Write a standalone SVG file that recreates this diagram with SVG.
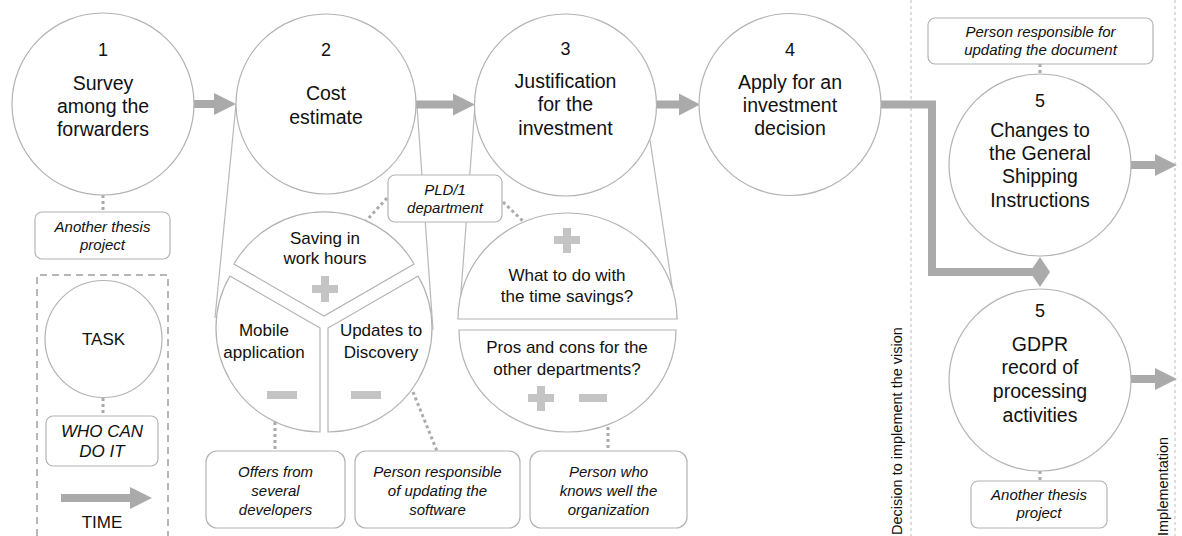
<svg xmlns="http://www.w3.org/2000/svg" width="1182" height="536" viewBox="0 0 1182 536">
  <style>
    .node { fill: #ffffff; stroke: #b3b3b3; stroke-width: 1.2; }
    .box { fill: #ffffff; stroke: #b3b3b3; stroke-width: 1.2; }
    .funnel { fill: none; stroke: #b8b8b8; stroke-width: 1.2; }
    .arrow { fill: #aaaaaa; stroke: none; }
    .flow { fill: none; stroke: #aaaaaa; stroke-width: 8; stroke-linejoin: miter; }
    .dots { fill: none; stroke: #aaaaaa; stroke-width: 3; stroke-dasharray: 3 3; }
    .divider { fill: none; stroke: #bbbbbb; stroke-width: 1; stroke-dasharray: 3 3; }
    .legend { fill: none; stroke: #a0a0a0; stroke-width: 1.5; stroke-dasharray: 7 5; }
    .sign { fill: #c4c4c4; }
    .title { font-family: "Liberation Sans", Arial, sans-serif; font-size: 19.5px; fill: #111111; text-anchor: middle; }
    .num { font-family: "Liberation Sans", Arial, sans-serif; font-size: 18px; fill: #111111; text-anchor: middle; }
    .inner { font-family: "Liberation Sans", Arial, sans-serif; font-size: 17px; fill: #111111; text-anchor: middle; }
    .who { font-family: "Liberation Sans", Arial, sans-serif; font-size: 15px; font-style: italic; fill: #111111; text-anchor: middle; }
    .whoL { font-family: "Liberation Sans", Arial, sans-serif; font-size: 17px; font-style: italic; fill: #111111; text-anchor: middle; }
    .side { font-family: "Liberation Sans", Arial, sans-serif; font-size: 14.5px; fill: #111111; }
  </style>

  <!-- phase dividers -->
  <g id="dividers">
    <line class="divider" x1="911" y1="0" x2="911" y2="536"/>
    <line class="divider" x1="1175" y1="0" x2="1175" y2="536"/>
    <text class="side" transform="translate(902,535) rotate(-90)">Decision to implement the vision</text>
    <text class="side" transform="translate(1168,536) rotate(-90)">Implementation</text>
  </g>

  <!-- funnels opening from tasks 2 and 3 into their breakdowns -->
  <g id="funnels">
    <line class="funnel" x1="236" y1="104" x2="215" y2="318"/>
    <line class="funnel" x1="417" y1="106" x2="433" y2="330"/>
    <line class="funnel" x1="475" y1="105" x2="459" y2="319"/>
    <line class="funnel" x1="650" y1="140" x2="677" y2="319"/>
  </g>

  <!-- connectors -->
  <g id="connectors">
    <polygon class="arrow" points="193,100 214,100 214,93 236,104 214,115 214,108 193,108"/>
    <polygon class="arrow" points="416,100.5 453,100.5 453,93.5 475,104.5 453,115.5 453,108.5 416,108.5"/>
    <polygon class="arrow" points="657,100.5 679,100.5 679,93.5 700,104.5 679,115.5 679,108.5 657,108.5"/>
    <polyline class="flow" points="880,104.5 932,104.5 932,272 1034,272"/>
    <polygon class="arrow" points="1040,257 1050,272 1040,287 1030,272"/>
    <polygon class="arrow" points="1131,161 1155,161 1155,154 1177,165 1155,176 1155,169 1131,169"/>
    <polygon class="arrow" points="1131,375 1155,375 1155,368 1177,379 1155,390 1155,383 1131,383"/>

    <line class="dots" x1="103" y1="195" x2="103" y2="212"/>
    <line class="dots" x1="387" y1="198" x2="366" y2="221"/>
    <line class="dots" x1="503" y1="202" x2="525" y2="223"/>
    <line class="dots" x1="275" y1="422" x2="275" y2="451"/>
    <line class="dots" x1="413" y1="392" x2="437" y2="451"/>
    <line class="dots" x1="608" y1="421" x2="608" y2="451"/>
    <line class="dots" x1="1040" y1="64" x2="1040" y2="74"/>
    <line class="dots" x1="1040" y1="471" x2="1040" y2="481"/>
  </g>

  <!-- task 1 -->
  <g id="task1">
    <circle class="node" cx="103" cy="104" r="91"/>
    <text class="num" x="103" y="56">1</text>
    <text class="title" x="103" y="90">Survey</text>
    <text class="title" x="103" y="113">among the</text>
    <text class="title" x="103" y="136">forwarders</text>
  </g>
  <g id="who1">
    <rect class="box" x="35" y="212" width="135" height="47" rx="7"/>
    <text class="who" x="102.5" y="232">Another thesis</text>
    <text class="who" x="102.5" y="250">project</text>
  </g>

  <!-- task 2 -->
  <g id="task2">
    <circle class="node" cx="326" cy="104" r="90"/>
    <text class="num" x="326" y="56">2</text>
    <text class="title" x="326" y="100">Cost</text>
    <text class="title" x="326" y="124">estimate</text>
  </g>

  <!-- cost estimate breakdown -->
  <g id="cost-savings">
    <path class="node" d="M324,316 L233.9,264 A104,104 0 0 1 414.1,264 Z"/>
    <text class="inner" x="325" y="244">Saving in</text>
    <text class="inner" x="325" y="264">work hours</text>
    <path class="sign" d="M321,276 h8 v9 h9 v8 h-9 v9 h-8 v-9 h-9 v-8 h9 Z"/>
  </g>
  <g id="cost-mobile">
    <path class="node" d="M320,328 L229.9,276 A104,104 0 0 0 320,432 Z"/>
    <text class="inner" x="264" y="336">Mobile</text>
    <text class="inner" x="264" y="358">application</text>
    <rect class="sign" x="267" y="391" width="30" height="8"/>
  </g>
  <g id="cost-discovery">
    <path class="node" d="M328,328 L328,432 A104,104 0 0 0 418.1,276 Z"/>
    <text class="inner" x="381" y="336">Updates to</text>
    <text class="inner" x="381" y="358">Discovery</text>
    <rect class="sign" x="351" y="391" width="30" height="8"/>
  </g>

  <g id="who-pld">
    <rect class="box" x="388" y="175" width="114" height="47" rx="7"/>
    <text class="who" x="445" y="195">PLD/1</text>
    <text class="who" x="445" y="213">department</text>
  </g>

  <!-- task 3 -->
  <g id="task3">
    <circle class="node" cx="565.5" cy="105" r="91"/>
    <text class="num" x="565.5" y="55">3</text>
    <text class="title" x="565.5" y="88">Justification</text>
    <text class="title" x="565.5" y="111">for the</text>
    <text class="title" x="565.5" y="135">investment</text>
  </g>

  <!-- justification breakdown -->
  <g id="justify-savings">
    <path class="node" d="M458,319 A109.5,106 0 0 1 677,319 Z"/>
    <path class="sign" d="M563,228 h8 v8 h9 v8 h-9 v9 h-8 v-9 h-9 v-8 h9 Z"/>
    <text class="inner" x="567" y="281">What to do with</text>
    <text class="inner" x="567" y="302">the time savings?</text>
  </g>
  <g id="justify-departments">
    <path class="node" d="M459,330 L676,330 A108.5,102 0 0 1 459,330 Z"/>
    <text class="inner" x="567" y="353">Pros and cons for the</text>
    <text class="inner" x="567" y="375">other departments?</text>
    <path class="sign" d="M537,386 h8 v8 h9 v8 h-9 v9 h-8 v-9 h-9 v-8 h9 Z"/>
    <rect class="sign" x="579" y="394" width="28" height="8"/>
  </g>

  <!-- people for the cost and justification items -->
  <g id="who-offers">
    <rect class="box" x="206" y="451" width="139" height="77" rx="11"/>
    <text class="who" x="275.5" y="477">Offers from</text>
    <text class="who" x="275.5" y="496">several</text>
    <text class="who" x="275.5" y="515">developers</text>
  </g>
  <g id="who-software">
    <rect class="box" x="355" y="451" width="165" height="77" rx="11"/>
    <text class="who" x="437.5" y="477">Person responsible</text>
    <text class="who" x="437.5" y="496">of updating the</text>
    <text class="who" x="437.5" y="515">software</text>
  </g>
  <g id="who-organization">
    <rect class="box" x="530" y="451" width="157" height="77" rx="11"/>
    <text class="who" x="608.5" y="477">Person who</text>
    <text class="who" x="608.5" y="496">knows well the</text>
    <text class="who" x="608.5" y="515">organization</text>
  </g>

  <!-- task 4 -->
  <g id="task4">
    <circle class="node" cx="790" cy="104.5" r="91"/>
    <text class="num" x="790" y="56">4</text>
    <text class="title" x="790" y="89">Apply for an</text>
    <text class="title" x="790" y="112">investment</text>
    <text class="title" x="790" y="135">decision</text>
  </g>

  <!-- task 5: shipping instructions -->
  <g id="who-document">
    <rect class="box" x="928" y="18" width="225" height="46" rx="7"/>
    <text class="who" x="1040.5" y="37">Person responsible for</text>
    <text class="who" x="1040.5" y="55">updating the document</text>
  </g>
  <g id="task5-shipping">
    <circle class="node" cx="1040" cy="165" r="91"/>
    <text class="num" x="1040" y="107">5</text>
    <text class="title" x="1040" y="137">Changes to</text>
    <text class="title" x="1040" y="160">the General</text>
    <text class="title" x="1040" y="183">Shipping</text>
    <text class="title" x="1040" y="207">Instructions</text>
  </g>

  <!-- task 5: GDPR record -->
  <g id="task5-gdpr">
    <circle class="node" cx="1040" cy="380" r="91"/>
    <text class="num" x="1040" y="317">5</text>
    <text class="title" x="1040" y="351">GDPR</text>
    <text class="title" x="1040" y="374">record of</text>
    <text class="title" x="1040" y="398">processing</text>
    <text class="title" x="1040" y="422">activities</text>
  </g>
  <g id="who-gdpr">
    <rect class="box" x="971" y="481" width="136" height="47" rx="7"/>
    <text class="who" x="1039" y="500">Another thesis</text>
    <text class="who" x="1039" y="518">project</text>
  </g>

  <!-- legend -->
  <g id="legend">
    <polyline class="legend" points="37,536 37,275 168,275 168,536"/>
    <circle class="node" cx="103.5" cy="339" r="58.5"/>
    <text class="inner" x="103.5" y="345">TASK</text>
    <line class="dots" x1="103" y1="398" x2="103" y2="416"/>
    <rect class="box" x="46" y="416" width="112" height="50" rx="7"/>
    <text class="whoL" x="102" y="437">WHO CAN</text>
    <text class="whoL" x="102" y="457">DO IT</text>
    <polygon class="arrow" points="61,494 130,494 130,487 152,498 130,509 130,502 61,502"/>
    <text class="inner" x="102" y="528">TIME</text>
  </g>
</svg>
